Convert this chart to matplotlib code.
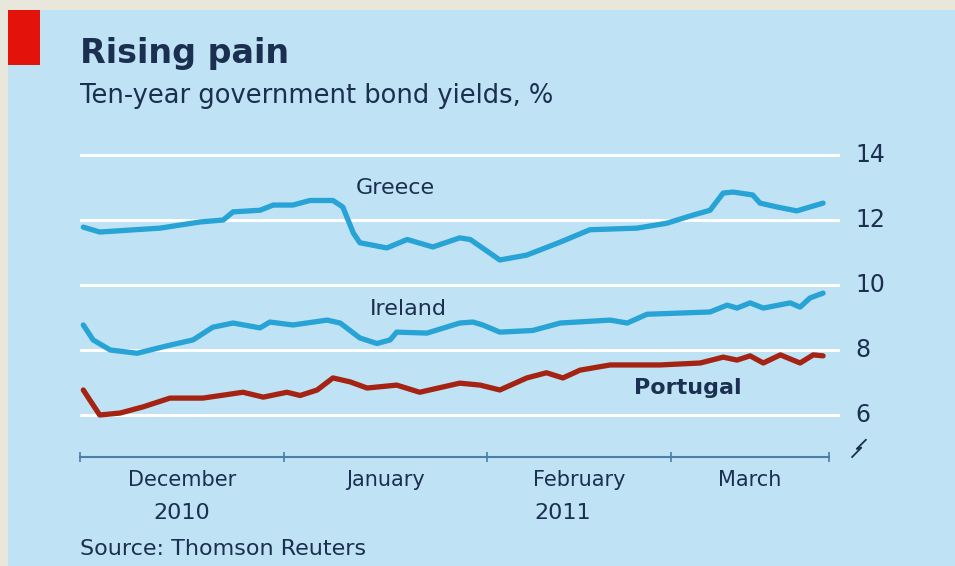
import numpy as np
import matplotlib.pyplot as plt
from matplotlib.patches import Rectangle

# days counted from 1 December 2010
greece_day = [0.5, 3.0, 12.2, 18.3, 21.8, 23.3, 27.4, 29.4, 32.4, 35.0, 38.5, 40.0, 41.6, 42.6,
              46.7, 49.8, 53.7, 57.8, 59.4, 63.9, 68.0, 73.1, 77.6, 84.8, 89.3, 93.3, 95.9,
              97.9, 99.4, 102.4, 103.5, 106.1, 109.1, 111.1, 113.1]
greece = [11.78, 11.63, 11.75, 11.94, 12.0, 12.25, 12.3, 12.46, 12.46, 12.6, 12.6, 12.4, 11.6, 11.3,
          11.14, 11.4, 11.17, 11.45, 11.4, 10.77, 10.92, 11.32, 11.7, 11.75, 11.9, 12.15, 12.3,
          12.83, 12.86, 12.77, 12.52, 12.4, 12.28, 12.4, 12.52]

ireland_day = [0.5, 2.0, 4.6, 8.7, 13.7, 17.2, 20.2, 23.3, 27.4, 28.9, 32.4, 37.6, 39.6, 42.6,
               45.2, 47.2, 48.2, 52.8, 57.8, 59.8, 61.3, 63.9, 68.9, 73.1, 80.7, 83.3, 86.3,
               95.9, 98.5, 100.0, 102.0, 104.0, 108.1, 109.6, 111.1, 113.1]
ireland = [8.77, 8.31, 8.0, 7.9, 8.15, 8.31, 8.7, 8.83, 8.68, 8.86, 8.77, 8.92, 8.83, 8.37,
           8.2, 8.31, 8.55, 8.52, 8.83, 8.86, 8.77, 8.55, 8.6, 8.83, 8.92, 8.83, 9.1,
           9.17, 9.38, 9.29, 9.45, 9.29, 9.45, 9.32, 9.6, 9.75]

portugal_day = [0.5, 1.5, 3.0, 6.1, 9.6, 13.7, 18.7, 24.8, 27.9, 31.5, 33.5, 36.1, 38.5, 41.1,
                43.7, 48.2, 51.7, 57.8, 60.9, 63.9, 68.0, 71.0, 73.5, 76.1, 80.7, 88.3, 94.4,
                97.9, 100.0, 102.0, 104.0, 106.6, 109.6, 111.6, 113.1]
portugal = [6.77, 6.46, 6.0, 6.06, 6.25, 6.52, 6.52, 6.7, 6.55, 6.7, 6.6, 6.77, 7.14, 7.02,
            6.83, 6.92, 6.7, 6.98, 6.92, 6.77, 7.14, 7.3, 7.14, 7.38, 7.54, 7.54, 7.6,
            7.78, 7.69, 7.82, 7.6, 7.85, 7.6, 7.85, 7.82]

month_ticks = [0, 31, 62, 90, 114]
month_names = ['December', 'January', 'February', 'March']
years = ['2010', '2011']
year_pos = [15.5, 73.5]
yticks = [6, 8, 10, 12, 14]

bg = '#bfe3f4'
navy = '#1b2f50'
blue = '#27a3d6'
red = '#a52312'

fig = plt.figure(figsize=(9.55, 5.66), dpi=100, facecolor='#e9e6dc')
fig.patches.append(Rectangle((8/955, 0), 1, 1 - 10/566, transform=fig.transFigure,
                             facecolor=bg, edgecolor='none', zorder=-2))
fig.patches.append(Rectangle((8/955, 1 - 65/566), 32/955, 55/566, transform=fig.transFigure,
                             facecolor='#e3120b', edgecolor='none', zorder=-1))

fig.text(80/955, 1 - 53/566, 'Rising pain', fontsize=24, fontweight='bold', color=navy, va='center')
fig.text(80/955, 1 - 96/566, 'Ten-year government bond yields, %', fontsize=18.5, color=navy, va='center')
fig.text(80/955, 1 - 549/566, 'Source: Thomson Reuters', fontsize=16, color=navy, va='center')

ax = fig.add_axes([80/955, 1 - 457/566, 760/955, 312/566])
ax.set_zorder(2)
ax.set_facecolor('none')
ax.set_xlim(0, 760/6.57)
ax.set_ylim(14 - (457-155)/32.5, 14 - (145-155)/32.5)

for v in yticks:
    ax.axhline(v, color='white', lw=2.2, zorder=1)
    ax.text(1.02, v, str(v), transform=ax.get_yaxis_transform(), fontsize=17,
            color=navy, va='center', ha='left')

ax.plot(greece_day, greece, color=blue, lw=3.8, solid_capstyle='round', solid_joinstyle='round', zorder=3)
ax.plot(ireland_day, ireland, color=blue, lw=3.8, solid_capstyle='round', solid_joinstyle='round', zorder=3)
ax.plot(portugal_day, portugal, color=red, lw=3.8, solid_capstyle='round', solid_joinstyle='round', zorder=3)

ax.text(48, 13.0, 'Greece', fontsize=16, color=navy, ha='center', va='center')
ax.text(50, 9.25, 'Ireland', fontsize=16, color=navy, ha='center', va='center')
ax.text(92.5, 6.82, 'Portugal', fontsize=16, fontweight='bold', color=navy, ha='center', va='center')

for s in ['top', 'right', 'left']:
    ax.spines[s].set_visible(False)
ax.spines['bottom'].set_color('#4a7fa8')
ax.spines['bottom'].set_linewidth(1.5)
ax.spines['bottom'].set_bounds(month_ticks[0], month_ticks[-1])
ax.set_yticks([])
ax.set_xticks(month_ticks)
ax.set_xticklabels([])
ax.tick_params(axis='x', direction='inout', length=7, width=1.2, color='#4a7fa8')

for i, name in enumerate(month_names):
    mid = (month_ticks[i] + month_ticks[i+1]) / 2
    ax.text(mid, -0.075, name, transform=ax.get_xaxis_transform(), fontsize=15,
            color=navy, ha='center', va='center')
for yr, pos in zip(years, year_pos):
    ax.text(pos, -0.178, yr, transform=ax.get_xaxis_transform(), fontsize=16,
            color=navy, ha='center', va='center')

# axis break mark
ax.plot([1.016, 1.028, 1.022, 1.034], [0.0, 0.03, 0.026, 0.055], transform=ax.transAxes,
        color=navy, lw=1.3, clip_on=False)

fig.savefig('out.png', dpi=100, facecolor=fig.get_facecolor())
